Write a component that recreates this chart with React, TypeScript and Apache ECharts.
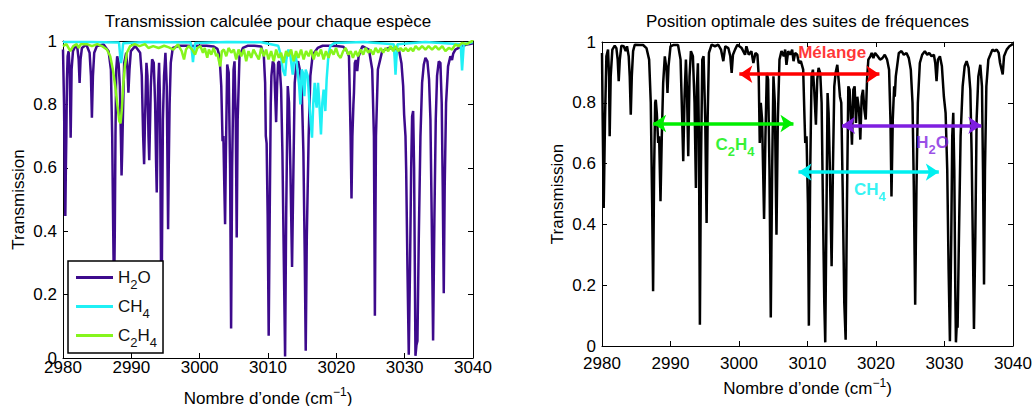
import React, { useEffect, useRef } from 'react';
import * as echarts from 'echarts';

const FONT = '"Liberation Sans", Arial, Helvetica, sans-serif';

// ---------- data (wavenumber cm-1, transmission) ----------
const xMin = 2980;
const xMax = 3040;
const xTickStep = 10;
const yTickStep = 0.2;

const seriesNames = ['H2O', 'CH4', 'C2H4'];
const seriesColors = ['#3d0a8c', '#1ff0f5', '#86f51c'];

const h2oData: [number, number][] = [
  [2980.0, 0.973], [2980.15, 0.805], [2980.25, 0.6], [2980.34, 0.448], [2980.42, 0.6], [2980.49, 0.7], [2980.58, 0.88],
  [2980.68, 0.952], [2980.82, 0.968], [2980.97, 0.91], [2981.05, 0.8], [2981.12, 0.695], [2981.19, 0.8], [2981.26, 0.91],
  [2981.46, 0.968], [2981.8, 0.984], [2982.1, 0.978], [2982.29, 0.942], [2982.43, 0.868], [2982.57, 0.942], [2982.77, 0.978],
  [2983.41, 0.989], [2983.89, 0.963], [2984.09, 0.89], [2984.23, 0.758], [2984.38, 0.89], [2984.57, 0.963], [2984.96, 0.984],
  [2985.94, 0.989], [2986.67, 0.968], [2987.01, 0.91], [2987.2, 0.7], [2987.35, 0.4], [2987.47, 0.18], [2987.58, 0.4],
  [2987.68, 0.7], [2987.79, 0.91], [2987.93, 0.952], [2988.13, 0.931], [2988.32, 0.858], [2988.47, 0.7], [2988.57, 0.576],
  [2988.66, 0.65], [2988.76, 0.753], [2988.95, 0.931], [2989.25, 0.963], [2989.44, 0.91], [2989.57, 0.837], [2989.73, 0.91],
  [2989.93, 0.968], [2990.56, 0.984], [2991.29, 0.963], [2991.53, 0.89], [2991.73, 0.7], [2991.87, 0.611], [2992.0, 0.75],
  [2992.07, 0.805], [2992.21, 0.931], [2992.36, 0.89], [2992.51, 0.7], [2992.62, 0.624], [2992.75, 0.75], [2992.85, 0.858],
  [2993.04, 0.942], [2993.28, 0.931], [2993.48, 0.805], [2993.62, 0.62], [2993.72, 0.522], [2993.82, 0.7], [2993.92, 0.858],
  [2994.06, 0.931], [2994.2, 0.805], [2994.32, 0.385], [2994.4, 0.07], [2994.5, 0.385], [2994.62, 0.75], [2994.79, 0.89],
  [2994.99, 0.963], [2995.18, 0.858], [2995.3, 0.595], [2995.38, 0.406], [2995.47, 0.595], [2995.6, 0.8], [2995.77, 0.931],
  [2996.06, 0.978], [2997.0, 0.985], [2998.0, 0.985], [2999.0, 0.984], [3000.0, 0.985], [3001.0, 0.985], [3002.0, 0.983],
  [3002.6, 0.975], [3002.91, 0.952], [3003.16, 0.858], [3003.35, 0.684], [3003.47, 0.7], [3003.6, 0.55], [3003.72, 0.422],
  [3003.84, 0.65], [3004.03, 0.926], [3004.25, 0.9], [3004.45, 0.6], [3004.6, 0.093], [3004.75, 0.6], [3004.96, 0.91],
  [3005.1, 0.936], [3005.28, 0.75], [3005.42, 0.38], [3005.56, 0.75], [3005.83, 0.952], [3006.32, 0.978], [3007.0, 0.985],
  [3008.0, 0.985], [3009.0, 0.983], [3009.39, 0.952], [3009.58, 0.868], [3009.68, 0.7], [3009.8, 0.677], [3009.95, 0.45],
  [3010.1, 0.07], [3010.25, 0.45], [3010.4, 0.8], [3010.5, 0.89], [3010.7, 0.936], [3010.89, 0.926], [3011.04, 0.837],
  [3011.19, 0.744], [3011.33, 0.858], [3011.48, 0.931], [3011.67, 0.936], [3011.92, 0.847], [3012.11, 0.648], [3012.3, 0.333],
  [3012.5, 0.005], [3012.66, 0.45], [3012.89, 0.858], [3013.08, 0.805], [3013.28, 0.595], [3013.52, 0.287], [3013.72, 0.595],
  [3013.91, 0.868], [3014.15, 0.926], [3014.4, 0.936], [3014.65, 0.91], [3014.93, 0.858], [3015.18, 0.648], [3015.37, 0.333],
  [3015.52, 0.023], [3015.68, 0.385], [3015.95, 0.7], [3016.2, 0.89], [3016.54, 0.957], [3017.27, 0.978], [3018.0, 0.985],
  [3019.0, 0.985], [3020.0, 0.984], [3021.0, 0.982], [3021.5, 0.97], [3021.85, 0.952], [3022.09, 0.7], [3022.22, 0.503],
  [3022.35, 0.7], [3022.5, 0.8], [3022.58, 0.837], [3022.7, 0.93], [3022.85, 0.94], [3023.06, 0.905], [3023.25, 0.95],
  [3023.8, 0.984], [3024.77, 0.973], [3025.25, 0.91], [3025.5, 0.7], [3025.64, 0.133], [3025.8, 0.7], [3026.08, 0.91],
  [3026.71, 0.968], [3027.69, 0.978], [3028.56, 0.975], [3029.15, 0.973], [3029.53, 0.93], [3029.78, 0.858], [3029.92, 0.768],
  [3030.12, 0.7], [3030.22, 0.595], [3030.41, 0.28], [3030.6, 0.01], [3030.78, 0.28], [3030.95, 0.595], [3031.09, 0.763],
  [3031.24, 0.779], [3031.38, 0.6], [3031.58, 0.007], [3031.72, 0.04], [3031.87, 0.054], [3032.07, 0.385], [3032.31, 0.7],
  [3032.55, 0.868], [3032.8, 0.926], [3033.04, 0.947], [3033.33, 0.936], [3033.57, 0.878], [3033.77, 0.753], [3033.96, 0.438],
  [3034.16, 0.055], [3034.35, 0.438], [3034.55, 0.753], [3034.74, 0.89], [3034.99, 0.936], [3035.23, 0.931], [3035.42, 0.805],
  [3035.57, 0.543], [3035.72, 0.204], [3035.86, 0.543], [3036.06, 0.805], [3036.35, 0.92], [3036.69, 0.952], [3036.93, 0.94],
  [3037.1, 0.96], [3037.42, 0.973], [3038.39, 0.984], [3039.36, 0.99], [3040.0, 0.993],
];

const ch4Data: [number, number][] = [
  [2980.0, 0.997], [2984.0, 0.997], [2988.2, 0.995], [2988.38, 0.95], [2988.5, 0.93], [2988.62, 0.95], [2988.8, 0.993],
  [2992.0, 0.997], [2998.7, 0.995], [2998.9, 0.96], [2999.02, 0.933], [2999.14, 0.96], [2999.35, 0.994], [3004.0, 0.997],
  [3009.0, 0.996], [3011.5, 0.985], [3011.92, 0.952], [3012.16, 0.91], [3012.5, 0.89], [3012.69, 0.942], [3012.99, 0.973],
  [3013.28, 0.952], [3013.62, 0.894], [3013.86, 0.952], [3014.1, 0.95], [3014.35, 0.9], [3014.55, 0.86], [3014.74, 0.8],
  [3014.93, 0.91], [3015.12, 0.9], [3015.32, 0.826], [3015.52, 0.91], [3015.81, 0.89], [3016.05, 0.805], [3016.25, 0.742],
  [3016.44, 0.695], [3016.63, 0.805], [3016.83, 0.868], [3016.98, 0.816], [3017.12, 0.79], [3017.32, 0.868], [3017.51, 0.805],
  [3017.75, 0.705], [3017.95, 0.805], [3018.14, 0.847], [3018.39, 0.779], [3018.58, 0.878], [3018.83, 0.952], [3019.12, 0.984],
  [3019.7, 0.994], [3024.0, 0.997], [3028.4, 0.99], [3028.55, 0.94], [3028.66, 0.894], [3028.78, 0.94], [3028.95, 0.99],
  [3033.0, 0.997], [3038.2, 0.99], [3038.32, 0.94], [3038.4, 0.907], [3038.5, 0.94], [3038.65, 0.99], [3040.0, 0.997],
];

const c2h4Data: [number, number][] = [
  [2980.0, 0.984], [2980.5, 0.99], [2981.07, 0.968], [2981.5, 0.984], [2982.0, 0.99], [2982.29, 0.978], [2982.6, 0.99],
  [2983.5, 0.99], [2984.23, 0.984], [2985.0, 0.99], [2985.7, 0.984], [2986.42, 0.973], [2986.91, 0.952], [2987.3, 0.91],
  [2987.64, 0.858], [2987.98, 0.795], [2988.22, 0.748], [2988.42, 0.74], [2988.61, 0.784], [2988.81, 0.858], [2989.05, 0.92],
  [2989.34, 0.963], [2989.83, 0.984], [2990.5, 0.99], [2991.2, 0.984], [2992.0, 0.99], [2992.5, 0.978], [2993.2, 0.984],
  [2994.0, 0.978], [2994.8, 0.985], [2995.5, 0.98], [2996.15, 0.973], [2996.8, 0.989], [2997.37, 0.968], [2997.71, 0.942],
  [2998.0, 0.973], [2998.4, 0.984], [2998.9, 0.973], [2999.32, 0.957], [2999.66, 0.978], [3000.1, 0.984], [3000.48, 0.963],
  [3000.75, 0.978], [3001.11, 0.947], [3001.35, 0.973], [3001.7, 0.957], [3002.04, 0.978], [3002.43, 0.952], [3002.6, 0.96],
  [3002.77, 0.942], [3003.01, 0.92], [3003.25, 0.968], [3003.55, 0.973], [3003.89, 0.952], [3004.23, 0.978], [3004.62, 0.963],
  [3005.0, 0.973], [3005.35, 0.942], [3005.69, 0.973], [3006.08, 0.952], [3006.47, 0.973], [3006.81, 0.936], [3007.15, 0.968],
  [3007.54, 0.947], [3007.88, 0.973], [3008.27, 0.957], [3008.66, 0.942], [3009.0, 0.978], [3009.39, 0.952], [3009.73, 0.973],
  [3010.07, 0.942], [3010.46, 0.968], [3010.85, 0.936], [3011.19, 0.973], [3011.58, 0.947], [3011.92, 0.963], [3012.26, 0.931],
  [3012.65, 0.968], [3012.99, 0.952], [3013.38, 0.973], [3013.76, 0.936], [3014.1, 0.968], [3014.45, 0.947], [3014.84, 0.973],
  [3015.22, 0.942], [3015.57, 0.968], [3015.95, 0.952], [3016.3, 0.973], [3016.68, 0.942], [3017.02, 0.968], [3017.37, 0.952],
  [3017.75, 0.973], [3018.14, 0.942], [3018.48, 0.968], [3018.87, 0.947], [3019.22, 0.973], [3019.6, 0.957], [3019.95, 0.978],
  [3020.3, 0.955], [3020.63, 0.947], [3021.0, 0.968], [3021.36, 0.978], [3021.75, 0.957], [3022.1, 0.968], [3022.43, 0.947],
  [3022.82, 0.968], [3023.16, 0.952], [3023.55, 0.973], [3023.94, 0.957], [3024.28, 0.978], [3024.67, 0.963], [3025.0, 0.973],
  [3025.4, 0.957], [3025.74, 0.978], [3026.13, 0.963], [3026.5, 0.978], [3026.86, 0.963], [3027.2, 0.978], [3027.59, 0.968],
  [3027.93, 0.984], [3028.32, 0.968], [3028.66, 0.984], [3029.05, 0.968], [3029.4, 0.978], [3029.78, 0.968], [3030.15, 0.978],
  [3030.51, 0.968], [3030.9, 0.978], [3031.24, 0.968], [3031.6, 0.984], [3032.07, 0.973], [3032.55, 0.984], [3033.04, 0.973],
  [3033.5, 0.984], [3034.01, 0.973], [3034.5, 0.984], [3034.99, 0.973], [3035.5, 0.984], [3035.96, 0.968], [3036.45, 0.978],
  [3036.93, 0.973], [3037.42, 0.989], [3037.9, 0.984], [3038.39, 0.994], [3039.1, 0.99], [3039.85, 1.0], [3040.0, 0.998],
];

const mixtureData: [number, number][] = [
  [2980.0, 0.964], [2980.1, 0.745], [2980.25, 0.454], [2980.44, 0.745], [2980.64, 0.953], [2980.88, 0.975], [2981.03, 0.887],
  [2981.12, 0.69], [2981.27, 0.887], [2981.51, 0.975], [2981.86, 0.988], [2982.1, 0.98], [2982.29, 0.942], [2982.44, 0.871],
  [2982.6, 0.942], [2982.83, 0.988], [2983.17, 0.986], [2983.46, 0.97], [2983.65, 0.986], [2983.9, 0.953], [2984.05, 0.887],
  [2984.2, 0.761], [2984.35, 0.887], [2984.54, 0.97], [2984.78, 0.991], [2985.5, 0.99], [2986.0, 0.99], [2986.49, 0.98],
  [2986.88, 0.942], [2987.12, 0.8], [2987.32, 0.47], [2987.46, 0.18], [2987.61, 0.58], [2987.76, 0.8], [2987.85, 0.81],
  [2988.0, 0.767], [2988.2, 0.668], [2988.34, 0.69], [2988.54, 0.476], [2988.73, 0.69], [2988.93, 0.865], [2989.17, 0.953],
  [2989.42, 0.909], [2989.56, 0.832], [2989.71, 0.92], [2990.0, 0.986], [2990.4, 0.99], [2991.1, 0.99], [2991.47, 0.942],
  [2991.71, 0.745], [2991.86, 0.608], [2992.05, 0.82], [2992.25, 0.942], [2992.39, 0.854], [2992.59, 0.624], [2992.78, 0.887],
  [2992.98, 0.97], [2993.27, 0.953], [2993.51, 0.8], [2993.71, 0.52], [2993.86, 0.854], [2994.0, 0.93], [2994.15, 0.69],
  [2994.29, 0.07], [2994.44, 0.58], [2994.64, 0.942], [2994.83, 0.953], [2995.07, 0.745], [2995.27, 0.405], [2995.42, 0.745],
  [2995.61, 0.964], [2996.0, 0.991], [2996.49, 0.986], [2996.98, 0.991], [2997.37, 0.975], [2997.71, 0.937], [2998.0, 0.986],
  [2998.44, 0.98], [2998.73, 0.953], [2998.93, 0.898], [2999.12, 0.958], [2999.42, 0.975], [2999.76, 0.991], [3000.39, 0.98],
  [3000.88, 0.958], [3001.08, 0.986], [3001.42, 0.958], [3001.81, 0.97], [3002.1, 0.931], [3002.4, 0.964], [3002.69, 0.958],
  [3002.88, 0.887], [3003.03, 0.668], [3003.18, 0.8], [3003.37, 0.745], [3003.52, 0.58], [3003.66, 0.418], [3003.86, 0.69],
  [3004.06, 0.898], [3004.25, 0.876], [3004.45, 0.58], [3004.64, 0.094], [3004.84, 0.58], [3005.03, 0.887], [3005.23, 0.8],
  [3005.47, 0.366], [3005.67, 0.745], [3005.91, 0.942], [3006.2, 0.97], [3006.54, 0.953], [3006.74, 0.975], [3006.93, 0.925],
  [3007.18, 0.97], [3007.47, 0.958], [3007.76, 0.975], [3007.96, 0.937], [3008.2, 0.964], [3008.5, 0.958], [3008.74, 0.931],
  [3009.03, 0.937], [3009.37, 0.909], [3009.57, 0.745], [3009.67, 0.668], [3009.86, 0.69], [3010.06, 0.47], [3010.2, 0.067],
  [3010.4, 0.58], [3010.59, 0.887], [3010.79, 0.909], [3010.98, 0.843], [3011.23, 0.728], [3011.42, 0.876], [3011.62, 0.915],
  [3011.86, 0.898], [3012.06, 0.8], [3012.25, 0.47], [3012.45, 0.142], [3012.59, 0.012], [3012.74, 0.361], [3012.93, 0.832],
  [3013.08, 0.767], [3013.27, 0.58], [3013.52, 0.262], [3013.71, 0.58], [3013.91, 0.854], [3014.1, 0.898], [3014.35, 0.925],
  [3014.54, 0.876], [3014.74, 0.82], [3014.93, 0.8], [3015.13, 0.525], [3015.37, 0.142], [3015.57, 0.021], [3015.76, 0.47],
  [3015.96, 0.854], [3016.15, 0.843], [3016.35, 0.745], [3016.49, 0.662], [3016.69, 0.843], [3016.88, 0.854], [3017.08, 0.734],
  [3017.27, 0.82], [3017.52, 0.778], [3017.71, 0.679], [3017.91, 0.82], [3018.1, 0.843], [3018.3, 0.778], [3018.5, 0.745],
  [3018.69, 0.876], [3018.88, 0.942], [3019.18, 0.953], [3019.37, 0.964], [3019.62, 0.947], [3019.86, 0.964], [3020.25, 0.953],
  [3020.59, 0.942], [3020.94, 0.947], [3021.28, 0.958], [3021.62, 0.942], [3021.91, 0.909], [3022.11, 0.745], [3022.26, 0.492],
  [3022.45, 0.745], [3022.65, 0.854], [3022.74, 0.82], [3022.89, 0.887], [3023.08, 0.92], [3023.33, 0.964], [3023.72, 0.97],
  [3024.06, 0.958], [3024.45, 0.964], [3024.79, 0.947], [3025.08, 0.909], [3025.33, 0.8], [3025.52, 0.525], [3025.72, 0.136],
  [3025.91, 0.525], [3026.11, 0.8], [3026.4, 0.931], [3026.74, 0.958], [3027.13, 0.97], [3027.47, 0.958], [3027.77, 0.964],
  [3028.11, 0.953], [3028.45, 0.958], [3028.65, 0.931], [3028.84, 0.871], [3029.04, 0.942], [3029.33, 0.953], [3029.62, 0.92],
  [3029.91, 0.82], [3030.16, 0.767], [3030.4, 0.58], [3030.6, 0.251], [3030.79, 0.016], [3030.99, 0.361], [3031.13, 0.69],
  [3031.28, 0.767], [3031.43, 0.58], [3031.57, 0.196], [3031.67, 0.012], [3031.82, 0.087], [3031.91, 0.06], [3032.11, 0.361],
  [3032.35, 0.69], [3032.65, 0.854], [3032.94, 0.92], [3033.23, 0.937], [3033.52, 0.915], [3033.77, 0.843], [3033.96, 0.635],
  [3034.16, 0.306], [3034.3, 0.056], [3034.5, 0.361], [3034.69, 0.745], [3034.94, 0.887], [3035.23, 0.925], [3035.47, 0.854],
  [3035.62, 0.58], [3035.77, 0.202], [3035.91, 0.58], [3036.11, 0.854], [3036.4, 0.942], [3036.69, 0.958], [3036.99, 0.975],
  [3037.28, 0.97], [3037.62, 0.975], [3037.91, 0.964], [3038.11, 0.931], [3038.5, 0.893], [3038.69, 0.953], [3039.08, 0.975],
  [3039.47, 0.986], [3039.82, 0.991], [3040.0, 0.995],
];

// optimal frequency ranges (arrows) on the right panel
const arrowNames = ['Mélange', 'C2H4', 'H2O', 'CH4'];
const arrowStart = [3000.05, 2987.46, 3015.04, 3008.68];
const arrowEnd = [3020.5, 3007.95, 3035.38, 3029.17];
const arrowLevel = [0.894, 0.732, 0.726, 0.572];
const arrowColors = ['#ff0000', '#00ee00', '#7f1fe0', '#00f0f0'];
const arrowLabelX = [3013.6, 2999.4, 3028.25, 3019.1];
const arrowLabelY = [0.966, 0.663, 0.668, 0.514];

// ---------- helpers ----------
const formula: Record<string, string> = {
  H2O: '{n|H}{s|2}{n|O}',
  CH4: '{n|CH}{s|4}',
  C2H4: '{n|C}{s|2}{n|H}{s|4}',
  'Mélange': '{n|Mélange}',
};

// subscript: top-aligned token with a top padding, so it sits below the main text centre
const richFor = (color: string, weight: string) => ({
  n: { fontSize: 17, fontFamily: FONT, color, fontWeight: weight, lineHeight: 27 },
  s: { fontSize: 13, fontFamily: FONT, color, fontWeight: weight, lineHeight: 13, verticalAlign: 'top', padding: [14, 0, 0, 0] },
});

const axisLineStyle = { color: '#000', width: 1 };

function makeAxes(grid: number, labelMargin: number, nameGap: number) {
  const xBottom = {
    type: 'value', gridIndex: grid, min: xMin, max: xMax, interval: xTickStep, position: 'bottom',
    axisLine: { show: true, onZero: false, lineStyle: axisLineStyle },
    axisTick: { show: true, inside: true, length: 5, lineStyle: axisLineStyle },
    splitLine: { show: false },
    axisLabel: {
      show: true, fontSize: 17, fontFamily: FONT, color: '#000', margin: labelMargin,
      formatter: (v: number) => String(v),
    },
    name: '{n|Nombre d\u2019onde (cm}{sup|\u22121}{n|)}',
    nameLocation: 'middle', nameGap,
    nameTextStyle: {
      rich: {
        n: { fontSize: 17, fontFamily: FONT, color: '#000', lineHeight: 24 },
        sup: { fontSize: 12, fontFamily: FONT, color: '#000', lineHeight: 9, verticalAlign: 'top' },
      },
    },
  };
  const xTop = {
    type: 'value', gridIndex: grid, min: xMin, max: xMax, interval: xTickStep, position: 'top',
    axisLine: { show: true, onZero: false, lineStyle: axisLineStyle },
    axisTick: { show: true, inside: true, length: 5, lineStyle: axisLineStyle },
    splitLine: { show: false }, axisLabel: { show: false },
  };
  const yLeft = {
    type: 'value', gridIndex: grid, min: 0, max: 1, interval: yTickStep, position: 'left',
    axisLine: { show: true, onZero: false, lineStyle: axisLineStyle },
    axisTick: { show: true, inside: true, length: 5, lineStyle: axisLineStyle },
    splitLine: { show: false },
    axisLabel: { show: true, fontSize: 17, fontFamily: FONT, color: '#000', margin: 6 },
    name: 'Transmission', nameLocation: 'middle', nameGap: 36, nameRotate: 90,
    nameTextStyle: { fontSize: 17, fontFamily: FONT, color: '#000' },
  };
  const yRight = {
    type: 'value', gridIndex: grid, min: 0, max: 1, interval: yTickStep, position: 'right',
    axisLine: { show: true, onZero: false, lineStyle: axisLineStyle },
    axisTick: { show: true, inside: true, length: 5, lineStyle: axisLineStyle },
    splitLine: { show: false }, axisLabel: { show: false },
  };
  return { x: [xBottom, xTop], y: [yLeft, yRight] };
}

export default function App() {
  const ref = useRef<HTMLDivElement>(null);

  useEffect(() => {
    if (!ref.current) return;
    const chart = echarts.init(ref.current, null, { renderer: 'svg' });
    const a0 = makeAxes(0, 1, 28);
    const a1 = makeAxes(1, 9, 23);

    const speciesData = [h2oData, ch4Data, c2h4Data];
    const leftSeries = seriesNames.map((name, i) => ({
      name, type: 'line', xAxisIndex: 0, yAxisIndex: 0,
      data: speciesData[i], showSymbol: false, symbol: 'none',
      lineStyle: { color: seriesColors[i], width: 2.5 },
      itemStyle: { color: seriesColors[i] },
      silent: true, z: 2 + i,
    }));

    const option: any = {
      animation: false,
      backgroundColor: '#fff',
      textStyle: { fontFamily: FONT },
      grid: [
        { left: 63, top: 41, width: 410, height: 317, containLabel: false, outerBoundsMode: 'none' },
        { left: 602, top: 42, width: 411, height: 304, containLabel: false, outerBoundsMode: 'none' },
      ],
      xAxis: [...a0.x, ...a1.x.map((ax: any) => ({ ...ax, gridIndex: 1 }))],
      yAxis: [...a0.y, ...a1.y.map((ax: any) => ({ ...ax, gridIndex: 1 }))],
      legend: {
        data: seriesNames,
        left: 68, top: 261, orient: 'vertical',
        icon: 'rect', itemWidth: 37, itemHeight: 3, itemGap: 2,
        padding: [3, 6, 4, 8],
        borderColor: '#000', borderWidth: 1.5, backgroundColor: '#fff',
        selectedMode: false,
        formatter: (name: string) => formula[name],
        textStyle: { fontSize: 17, fontFamily: FONT, color: '#000', rich: richFor('#111', 'normal') },
      },
      graphic: [
        { type: 'text', x: 268, y: 21, style: { text: 'Transmission calculée pour chaque espèce', fontSize: 17, fontFamily: FONT, fill: '#000', align: 'center', verticalAlign: 'middle' } },
        { type: 'text', x: 807.5, y: 21, style: { text: 'Position optimale des suites de fréquences', fontSize: 17, fontFamily: FONT, fill: '#000', align: 'center', verticalAlign: 'middle' } },
      ],
      series: [
        ...leftSeries,
        {
          name: 'Mélange', type: 'line', xAxisIndex: 2, yAxisIndex: 2,
          data: mixtureData, showSymbol: false, symbol: 'none',
          lineStyle: { color: '#000', width: 2.5 }, silent: true, z: 2,
          markLine: {
            silent: true, animation: false,
            symbol: ['arrow', 'arrow'], symbolSize: [13, 13],
            label: { show: false },
            data: arrowNames.map((n, i) => [
              { coord: [arrowStart[i], arrowLevel[i]], lineStyle: { color: arrowColors[i], width: 3.5, type: 'solid' }, itemStyle: { color: arrowColors[i] } },
              { coord: [arrowEnd[i], arrowLevel[i]] },
            ]),
          },
        },
        {
          name: 'labels', type: 'scatter', xAxisIndex: 2, yAxisIndex: 2,
          symbolSize: 0, silent: true, z: 5,
          data: arrowNames.map((n, i) => ({
            value: [arrowLabelX[i], arrowLabelY[i]],
            label: {
              show: true, position: 'inside', align: 'center', verticalAlign: 'middle',
              formatter: formula[n], rich: richFor(arrowColors[i], 'bold'),
            },
          })),
        },
      ],
    };
    chart.setOption(option);
    return () => chart.dispose();
  }, []);

  return (
    <div
      ref={ref}
      style={{ position: 'fixed', left: 0, top: 0, width: 1035, height: 406, background: '#fff' }}
    />
  );
}
